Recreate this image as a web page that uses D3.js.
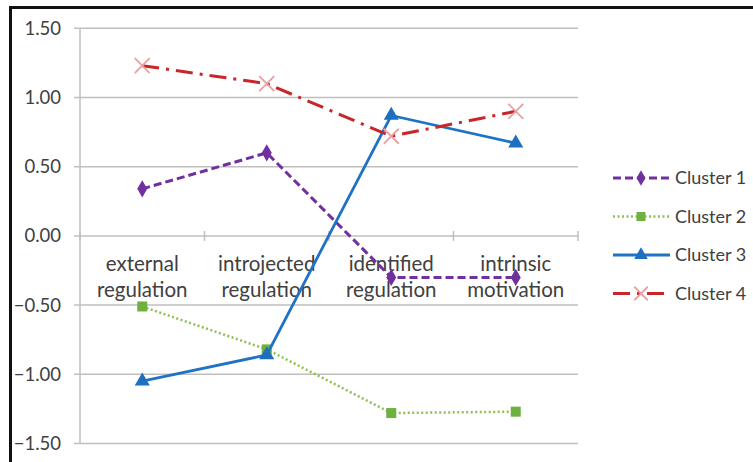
<!DOCTYPE html>
<html><head><meta charset="utf-8">
<script src="https://cdn.jsdelivr.net/npm/d3@7"></script>
<style>html,body{margin:0;padding:0;background:#fff;}svg{display:block;}</style>
</head><body>
<svg id="c" width="753" height="462"></svg>
<script>
const categories = [["external","regulation"],["introjected","regulation"],["identified","regulation"],["intrinsic","motivation"]];
const yTicks = [1.5, 1.0, 0.5, 0.0, -0.5, -1.0, -1.5];
const seriesNames = ["Cluster 1","Cluster 2","Cluster 3","Cluster 4"];
const cluster1 = [0.34, 0.60, -0.30, -0.30];
const cluster2 = [-0.51, -0.82, -1.28, -1.27];
const cluster3 = [-1.05, -0.86, 0.87, 0.67];
const cluster4 = [1.23, 1.10, 0.72, 0.90];

(function(){
const styles = [
  {color:"#7030a0", dash:"8,4", width:3, marker:"diamond", mcolor:"#7030a0"},
  {color:"#8cc152", dash:"2,2.5", width:2.5, marker:"square", mcolor:"#6fb13e"},
  {color:"#1f73c4", dash:null, width:2.8, marker:"triangle", mcolor:"#1f6fc0"},
  {color:"#c8262a", dash:"17,7,3,7", width:3, marker:"x", mcolor:"#e8a0a0"}
];
const data = [cluster1, cluster2, cluster3, cluster4];

const svg = d3.select("#c");
const font = "Lato, 'Open Sans', sans-serif";
svg.append("line").attr("x1",9).attr("x2",753).attr("y1",7.5).attr("y2",7.5).attr("stroke","#111").attr("stroke-width",3);
svg.append("line").attr("x1",10.5).attr("x2",10.5).attr("y1",6).attr("y2",462).attr("stroke","#111").attr("stroke-width",3);

const pl=80, pr=578, pt=28.3, pb=443.5;
const x = d3.scaleBand().domain(d3.range(4)).range([pl,pr]);
const y = d3.scaleLinear().domain([-1.5,1.5]).range([pb,pt]);

svg.append("g").selectAll("line").data(yTicks).join("line")
  .attr("x1",pl-6).attr("x2",pr).attr("y1",d=>y(d)).attr("y2",d=>y(d))
  .attr("stroke","#bfbfbf").attr("stroke-width",1.5);
svg.append("line").attr("x1",pl).attr("x2",pl).attr("y1",pt).attr("y2",pb).attr("stroke","#bfbfbf").attr("stroke-width",1.5);
svg.append("g").selectAll("text").data(yTicks).join("text")
  .attr("x",61).attr("y",d=>y(d)).attr("dy","0.35em").attr("text-anchor","end")
  .attr("font-family",font).attr("font-size",18.5).attr("fill","#404040")
  .text(d=>d3.format(".2f")(d));
const bounds = d3.range(5).map(i=>pl + i*x.step());
svg.append("g").selectAll("line").data(bounds).join("line")
  .attr("x1",d=>d).attr("x2",d=>d).attr("y1",y(0)-5).attr("y2",y(0)+5)
  .attr("stroke","#bfbfbf").attr("stroke-width",1.5);
const cl = svg.append("g").selectAll("text").data(categories).join("text")
  .attr("x",(d,i)=>x(i)+x.bandwidth()/2).attr("y",270.5)
  .attr("text-anchor","middle").attr("font-family",font).attr("font-size",20.5).attr("fill","#404040");
cl.selectAll("tspan").data(d=>d).join("tspan")
  .attr("x",function(){return this.parentNode.getAttribute("x");})
  .attr("dy",(d,i)=>i===0?0:26).text(d=>d);

function marker(g, type, color, size){
  if(type==="diamond") g.append("path").attr("d",d3.symbol(d3.symbolDiamond, size*size*0.6)()).attr("fill",color);
  if(type==="square") g.append("rect").attr("x",-size/2).attr("y",-size/2).attr("width",size).attr("height",size).attr("fill",color);
  if(type==="triangle") g.append("path").attr("d",d3.symbol(d3.symbolTriangle, size*size*0.5)()).attr("fill",color);
  if(type==="x"){
    const s=size/2;
    g.append("path").attr("d",`M${-s},${-s}L${s},${s}M${-s},${s}L${s},${-s}`).attr("stroke",color).attr("stroke-width",1.8).attr("fill","none");
  }
}
const msize = [12,10,14,15];
const line = d3.line().x((d,i)=>x(i)+x.bandwidth()/2).y(d=>y(d));
data.forEach((vals,k)=>{
  const st = styles[k];
  svg.append("path").datum(vals).attr("d",line).attr("fill","none")
    .attr("stroke",st.color).attr("stroke-width",st.width)
    .attr("stroke-dasharray",st.dash);
  vals.forEach((v,i)=>{
    const g = svg.append("g").attr("transform",`translate(${x(i)+x.bandwidth()/2},${y(v)})`);
    marker(g, st.marker, st.mcolor, msize[k]);
  });
});

const legY = [178, 216.5, 255, 293.5];
seriesNames.forEach((n,k)=>{
  const st = styles[k];
  const g = svg.append("g").attr("transform",`translate(0,${legY[k]})`);
  g.append("line").attr("x1",613).attr("x2",670).attr("y1",0).attr("y2",0)
    .attr("stroke",st.color).attr("stroke-width",st.width).attr("stroke-dasharray",st.dash);
  const mg = g.append("g").attr("transform","translate(641,0)");
  marker(mg, st.marker, st.mcolor, msize[k]*0.9);
  g.append("text").attr("x",675).attr("y",0).attr("dy","0.35em")
    .attr("font-family",font).attr("font-size",18).attr("fill","#404040").text(n);
});
})();
</script>
</body></html>
